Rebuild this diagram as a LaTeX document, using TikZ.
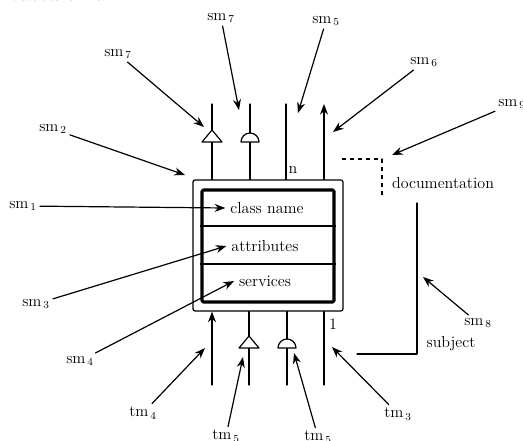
\documentclass[tikz,border=0pt]{standalone}
\usetikzlibrary{arrows.meta}
\begin{document}
\begin{tikzpicture}[x=0.75pt,y=-0.75pt,line join=round,line cap=round,line width=0.9pt,
	font=\fontsize{12}{14}\selectfont]
		\useasboundingbox (0,0) rectangle (523,441);
		\clip (0,0) rectangle (523,441);
		\tikzset{lbl/.style={inner sep=2pt},
			ptr/.style={-{Stealth[length=8pt,width=6pt]}},
			tri/.pic={
				\draw[fill=white] (0,-12) -- (10,0) -- (-10,0) -- cycle;
			},
			dome/.pic={
				\draw[fill=white] (-9,0) arc (180:360:9) -- cycle;
			}
		}
		% cut text of the page above
		\node[anchor=base west,inner sep=0] (cut) at (8,1) {\fontsize{17}{20}\selectfont based on a};
		% the class box
		\node[draw,rounded corners=1.5pt,minimum width=112.5pt,minimum height=98.25pt,inner sep=0] (outer) at (268,245.5) {};
		\node[draw,line width=2.3pt,rounded corners=1pt,minimum width=99pt,minimum height=84pt,inner sep=0] (inner) at (268,246) {};
		\draw (inner.west |- 0,226) -- (inner.east |- 0,226)
		(inner.west |- 0,264) -- (inner.east |- 0,264);
		\node (cname) at (267,208) {class name};
		\node (attr) at (265,246) {attributes};
		\node (serv) at (265,281) {services};
		% connections on top
		\coordinate (t1) at (212,104);
		\coordinate (t2) at (250,104);
		\coordinate (t3) at (286,104);
		\coordinate (t4) at (324,104);
		\draw (t1) -- (t1 |- outer.north);
		\draw (t2) -- (t2 |- outer.north);
		\draw (t3) -- (t3 |- outer.north);
		\draw[ptr] (t4 |- outer.north) -- (t4);
		\path (212,142) pic{tri} (250,142) pic{dome};
		\node[inner sep=0] (n) at (293,170) {n};
		% connections below
		\coordinate (b1) at (212,385);
		\coordinate (b2) at (249,385);
		\coordinate (b3) at (287,385);
		\coordinate (b4) at (324,385);
		\draw[ptr] (b1) -- (b1 |- outer.south);
		\draw (b2) -- (b2 |- outer.south);
		\draw (b3) -- (b3 |- outer.south);
		\draw (b4) -- (b4 |- outer.south);
		\path (249,348) pic{tri} (287,348) pic{dome};
		\node[inner sep=0] (one) at (333,324) {1};
		% documentation and subject
		\coordinate (d1) at (342,159);
		\coordinate (d2) at (382,159);
		\coordinate (d3) at (382,195);
		\draw[dashed,line cap=butt] (d1) -- (d2) -- (d3);
		\node (doc) at (443,183) {documentation};
		\coordinate (s1) at (417,203);
		\coordinate (s2) at (417,354);
		\coordinate (s3) at (357,354);
		\draw (s1) -- (s2) -- (s3);
		\node (subj) at (451,344) {subject};
		% labels
		\node[lbl] (sm7a) at (118,54) {sm$_{\,7}$};
		\node[lbl] (sm7b) at (221,18) {sm$_{\,7}$};
		\node[lbl] (sm2) at (53,129) {sm$_{\,2}$};
		\node[lbl] (sm5) at (326,21) {sm$_{\,5}$};
		\node[lbl] (sm6) at (424,62) {sm$_{\,6}$};
		\node[lbl] (sm9) at (512,104) {sm$_{\,9}$};
		\node[lbl] (sm1) at (23,206) {sm$_{\,1}$};
		\node[lbl] (sm3) at (36,304) {sm$_{\,3}$};
		\node[lbl] (sm4) at (80,361) {sm$_{\,4}$};
		\node[lbl] (sm8) at (478,323) {sm$_{\,8}$};
		\node[lbl] (tm4) at (143,413) {tm$_{\,4}$};
		\node[lbl] (tm5a) at (226,436) {tm$_{\,5}$};
		\node[lbl] (tm5b) at (318,437) {tm$_{\,5}$};
		\node[lbl] (tm3) at (398,414) {tm$_{\,3}$};
		% pointers
		\coordinate (p7a) at (204,127);
		\coordinate (p7b) at (239,110);
		\coordinate (p2) at (185,175);
		\coordinate (p5) at (298,113);
		\coordinate (p6) at (333,132);
		\coordinate (p9) at (392,155);
		\coordinate (p8) at (423,277);
		\coordinate (q4) at (205,348);
		\coordinate (q5a) at (243,357);
		\coordinate (q5b) at (294,353);
		\coordinate (q3) at (332,347);
		\draw[ptr] (sm7a) -- (p7a);
		\draw[ptr] (sm7b) -- (p7b);
		\draw[ptr] (sm2) -- (p2);
		\draw[ptr] (sm5) -- (p5);
		\draw[ptr] (sm6) -- (p6);
		\draw[ptr] (sm9) -- (p9);
		\draw[ptr] (sm1) -- (cname.west);
		\draw[ptr] (sm3) -- (attr.west);
		\draw[ptr] (sm4) -- (serv.west);
		\draw[ptr] (sm8) -- (p8);
		\draw[ptr] (tm4) -- (q4);
		\draw[ptr] (tm5a) -- (q5a);
		\draw[ptr] (tm5b) -- (q5b);
		\draw[ptr] (tm3) -- (q3);
\end{tikzpicture}
\end{document}
